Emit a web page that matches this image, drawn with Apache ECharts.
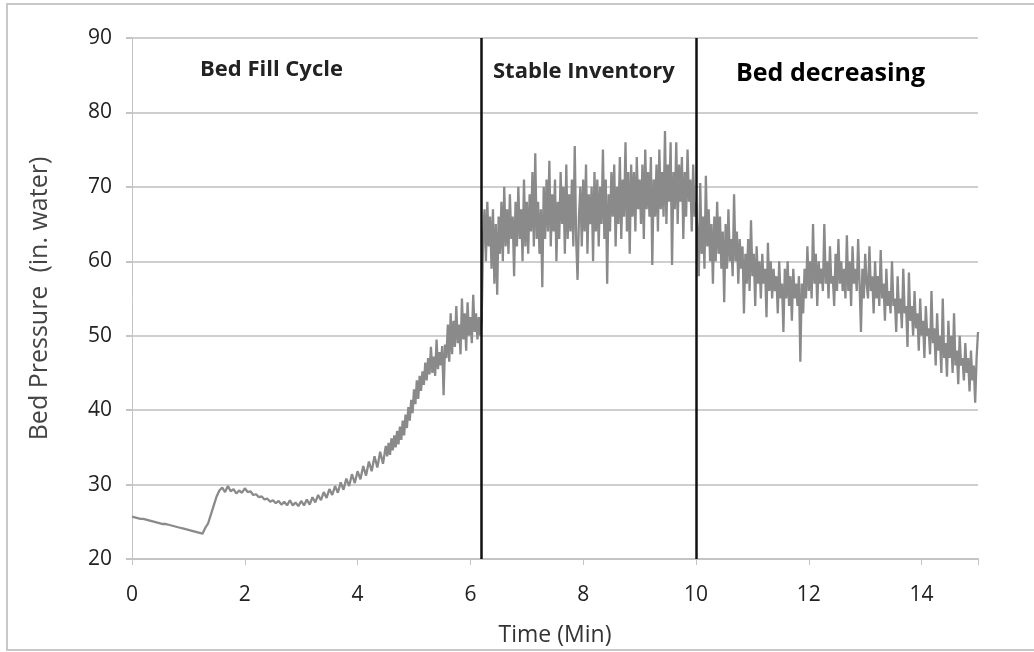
<!DOCTYPE html>
<html>
<head>
<meta charset="utf-8">
<script src="https://cdn.jsdelivr.net/npm/echarts@6/dist/echarts.min.js"></script>
<style>
  html, body { margin: 0; padding: 0; background: #fff; }
  #chart { width: 1034px; height: 652px; }
</style>
</head>
<body>
<div id="chart"></div>
<script>
// bed fill, 0 - 4.5 min, every 0.05 min
const fillCycle = [
  25.7, 25.6, 25.5, 25.4, 25.4, 25.3, 25.2, 25.1, 25.0, 24.9,
  24.8, 24.7, 24.7, 24.6, 24.5, 24.4, 24.3, 24.2, 24.1, 24.0,
  23.9, 23.8, 23.7, 23.6, 23.5, 23.4, 24.2, 24.8, 26.0, 27.2,
  28.4, 29.2, 29.6, 29.0, 29.8, 29.1, 29.4, 28.8, 29.2, 28.9,
  29.5, 29.0, 29.1, 28.6, 28.7, 28.3, 28.4, 28.0, 28.1, 27.7,
  27.9, 27.5, 27.8, 27.3, 27.7, 27.2, 27.9, 27.2, 27.6, 27.1,
  27.8, 27.2, 28.0, 27.3, 28.3, 27.6, 28.6, 27.9, 29.0, 28.2,
  29.4, 28.6, 29.8, 28.9, 30.3, 29.3, 30.8, 29.8, 31.4, 30.2,
  31.8, 30.7, 32.5, 31.2, 33.1, 31.8, 33.8, 32.3, 34.4, 32.8,
  35.2
];

// bed fill, 4.525 - 6.2 min, every 0.025 min
const fillRise = [
  33.8, 35.6, 34.0, 36.2, 34.6, 36.6, 35.0, 37.2,
  35.4, 37.8, 36.0, 38.6, 36.6, 39.4, 37.6, 40.4,
  38.6, 41.4, 39.6, 42.8, 40.8, 44.0, 41.5, 44.6,
  42.6, 45.2, 43.4, 46.4, 44.0, 47.0, 44.8, 48.5,
  45.0, 47.2, 44.6, 49.5, 45.5, 47.8, 46.0, 48.6,
  42.0, 48.8, 47.0, 51.5, 46.5, 53.0, 47.5, 52.0,
  48.5, 54.0, 49.0, 51.5, 47.5, 55.0, 49.5, 53.0,
  48.0, 54.5, 50.0, 52.5, 49.0, 55.5, 50.5, 53.0,
  49.5, 52.5, 50.0, 52.0
];

// stable inventory, 6.225 - 10 min, every 0.025 min
const stableInventory = [
  63, 67, 60, 68, 62, 66, 59, 67,
  57, 65, 55.5, 66, 61, 68, 60, 70,
  62, 67, 61, 69, 63, 66, 58, 68,
  62, 70, 63, 67, 60, 71, 62, 68,
  61, 69, 64, 72, 62, 74.5, 63, 68,
  61, 67, 56.5, 70, 63, 71, 64, 73.5,
  62, 69, 64, 71, 60, 68, 63, 72,
  65, 70, 61, 73, 63, 69, 64, 71,
  62, 75.5, 63, 57.5, 66, 70, 62, 71,
  64, 73, 61, 69, 65, 70, 60, 72,
  64, 71, 62, 70, 65, 75, 63, 71,
  57, 69, 64, 72, 66, 73, 62, 70,
  65, 74, 63, 71, 66, 76, 64, 72,
  61, 73, 66, 72, 64, 74, 67, 71,
  65, 73, 63, 75, 67, 72, 66, 74,
  59.5, 71, 66, 73, 64, 75, 67, 72,
  66, 77.5, 65, 73, 68, 76, 59.5, 72,
  67, 76, 65, 73, 68, 74, 63, 72,
  66, 75, 68, 71, 64, 73, 66, 68
];

// bed decreasing, 10.025 - 15 min, every 0.025 min
const bedDecreasing = [
  64, 58, 70.5, 61, 66, 59, 71.5, 62,
  67, 60, 65, 57, 66, 60, 68, 61,
  66, 59, 64, 54.5, 65, 59, 67, 60,
  63, 58, 69, 60, 64, 57, 63, 59,
  62, 53, 61, 57, 63, 56, 65.5, 58,
  61, 54, 62, 57, 60, 55, 61, 57,
  59, 52.5, 62.5, 56, 60, 55, 59, 56,
  58, 53, 60, 55, 57, 50.5, 59, 55,
  60, 54, 58, 52, 59, 55, 57, 54,
  58, 46.5, 57, 53, 59, 55, 62, 56,
  60, 55, 65, 57, 61, 54, 60, 57,
  59, 56, 65, 57, 60, 55, 62, 57,
  58, 54, 61, 56, 63, 57, 60, 56,
  59, 55, 63.5, 56, 60, 54, 62, 57,
  59, 56, 63, 57, 50.5, 59, 55, 61,
  57, 55, 62, 56, 58, 53, 60, 55,
  58, 54, 61.5, 55, 57, 52, 59, 54,
  56, 53, 60, 54, 55, 50.5, 58, 53,
  55, 51, 59, 53, 54, 48.5, 58.5, 52,
  54, 50, 56, 51, 53, 48, 55, 50,
  52, 47, 54, 50, 51, 47.5, 56, 49,
  51, 46, 53, 48, 50, 45, 55, 47,
  49, 44.5, 52, 47, 50, 45, 53, 46,
  48, 43.5, 50, 46, 47, 44, 49, 45,
  47, 42.5, 48, 44, 46, 41, 47, 50.5
];

const segmentStart = [0, 4.525, 6.225, 10.025];
const segmentStep = [0.05, 0.025, 0.025, 0.025];

const phaseBounds = [6.2, 10];
const phaseNames = ['Bed Fill Cycle', 'Stable Inventory', 'Bed decreasing'];
const xTicks = [0, 2, 4, 6, 8, 10, 12, 14];
const yTicks = [20, 30, 40, 50, 60, 70, 80, 90];

const points = [];
[fillCycle, fillRise, stableInventory, bedDecreasing].forEach((seg, s) => {
  seg.forEach((v, i) => {
    points.push([+(segmentStart[s] + i * segmentStep[s]).toFixed(3), v]);
  });
});

const font = '"Open Sans", Lato, sans-serif';

let myChart = echarts.init(document.getElementById('chart'));
let option = {
  animation: false,
  backgroundColor: '#fff',
  grid: { left: 132, right: 56, top: 38, bottom: 92 },
  xAxis: {
    type: 'value',
    min: 0,
    max: 15,
    interval: 2,
    name: 'Time (Min)',
    nameLocation: 'middle',
    nameGap: 65,
    nameTextStyle: { fontFamily: font, fontSize: 23, color: '#333' },
    axisLine: { show: true, lineStyle: { color: '#c4c4c4', width: 2 } },
    axisTick: { show: true, length: 6, lineStyle: { color: '#c4c4c4' } },
    axisLabel: {
      fontFamily: font, fontSize: 21, color: '#222', margin: 26,
      formatter: v => (xTicks.indexOf(v) >= 0 ? String(v) : '')
    },
    splitLine: { show: false }
  },
  yAxis: {
    type: 'value',
    min: 20,
    max: 90,
    interval: 10,
    name: 'Bed Pressure  (in. water)',
    nameLocation: 'middle',
    nameGap: 80,
    nameTextStyle: { fontFamily: font, fontSize: 25, color: '#444' },
    axisLine: { show: true, lineStyle: { color: '#c4c4c4', width: 1 } },
    axisTick: { show: true, length: 6, lineStyle: { color: '#c4c4c4', width: 2 } },
    axisLabel: {
      fontFamily: font, fontSize: 21, color: '#222', margin: 20,
      formatter: v => (yTicks.indexOf(v) >= 0 ? String(v) : '')
    },
    splitLine: { show: true, lineStyle: { color: '#cfcfcf', width: 2 } }
  },
  series: [
    {
      name: 'Bed Pressure',
      type: 'line',
      data: points,
      showSymbol: false,
      smooth: false,
      lineStyle: { color: '#8a8a8a', width: 2.3 },
      markLine: {
        silent: true,
        symbol: ['none', 'none'],
        label: { show: false },
        lineStyle: { color: '#111', width: 2.5, type: 'solid' },
        data: phaseBounds.map(b => ({ xAxis: b }))
      }
    }
  ],
  graphic: [
    {
      type: 'rect',
      shape: { x: 7, y: 4, width: 1040, height: 646 },
      style: { fill: 'none', stroke: '#c8c8c8', lineWidth: 2 },
      silent: true
    },
    {
      type: 'text',
      style: { x: 200, y: 70, text: phaseNames[0], verticalAlign: 'middle', font: 'bold 22px ' + font, fill: '#222' }
    },
    {
      type: 'text',
      style: { x: 493, y: 72, text: phaseNames[1], verticalAlign: 'middle', font: 'bold 22px ' + font, fill: '#222' }
    },
    {
      type: 'text',
      style: { x: 736, y: 74, text: phaseNames[2], verticalAlign: 'middle', font: 'bold 25px ' + font, fill: '#000' }
    }
  ]
};
myChart.setOption(option);
</script>
</body>
</html>
